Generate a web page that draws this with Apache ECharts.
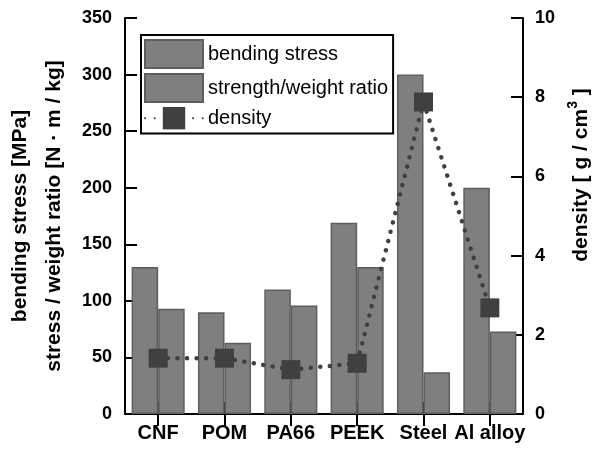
<!DOCTYPE html>
<html>
<head>
<meta charset="utf-8">
<script src="https://cdn.jsdelivr.net/npm/echarts@6/dist/echarts.min.js"></script>
<style>
html,body{margin:0;padding:0;background:#fff;}
#c{width:601px;height:454px;}
</style>
</head>
<body>
<div id="c"></div>
<script>
const categories = ['CNF', 'POM', 'PA66', 'PEEK', 'Steel', 'Al alloy'];
const bendingStress = [130, 90, 110, 169, 300, 200];
const strengthWeight = [93, 63, 96, 130, 37, 73];
const density = [1.41, 1.41, 1.12, 1.28, 7.88, 2.68];
const leftTicks = [0, 350, 50];
const rightTicks = [0, 10, 2];

const FONT = '"Liberation Sans", Arial, sans-serif';
const chart = echarts.init(document.getElementById('c'), null, {renderer: 'canvas'});
const axLine = {show: true, lineStyle: {color: '#000', width: 2}};
const tick = {show: true, inside: true, length: 12, lineStyle: {color: '#000', width: 2}};
const lbl = {color: '#000', fontFamily: FONT, fontWeight: 'bold', fontSize: 18};

chart.setOption({
  animation: false,
  backgroundColor: '#fff',
  grid: {left: 125, right: 78, top: 18, bottom: 40, containLabel: false, outerBoundsMode: 'none'},
  legend: {
    orient: 'vertical',
    left: 141, top: 35,
    padding: [4, 5, 4, 3],
    borderColor: '#000', borderWidth: 2,
    itemWidth: 58, itemHeight: 28, itemGap: 4,
    textStyle: {color: '#000', fontFamily: FONT, fontSize: 20},
    data: [{name: 'bending stress', icon: 'rect'}, {name: 'strength/weight ratio', icon: 'rect'}, {name: 'density'}]
  },
  xAxis: [
    {type: 'category', data: categories, position: 'bottom',
     axisLine: axLine, axisTick: Object.assign({alignWithLabel: true}, tick),
     axisLabel: Object.assign({}, lbl, {fontSize: 20, margin: 9, interval: 0}),
     splitLine: {show: false}},
    {type: 'category', data: categories, position: 'top',
     axisLine: axLine, axisTick: Object.assign({alignWithLabel: true}, tick),
     axisLabel: {show: false}, splitLine: {show: false}}
  ],
  yAxis: [
    {type: 'value', position: 'left', min: leftTicks[0], max: leftTicks[1], interval: leftTicks[2],
     axisLine: axLine, axisTick: tick,
     axisLabel: Object.assign({}, lbl, {margin: 13}),
     splitLine: {show: false},
     name: 'bending stress [MPa]\nstress / weight ratio [N · m / kg]',
     nameLocation: 'middle', nameGap: 51, nameRotate: 90,
     nameTextStyle: {color: '#000', fontFamily: FONT, fontWeight: 'bold', fontSize: 21, lineHeight: 34}},
    {type: 'value', position: 'right', min: rightTicks[0], max: rightTicks[1], interval: rightTicks[2],
     axisLine: axLine, axisTick: tick,
     axisLabel: Object.assign({}, lbl, {margin: 12}),
     splitLine: {show: false},
     name: '{n|density [ g / cm}{sup|3}{n| ]}',
     nameLocation: 'middle', nameGap: 42, nameRotate: 90,
     nameTextStyle: {color: '#000', fontFamily: FONT, fontWeight: 'bold', fontSize: 21, padding: [0, 0, 0, 82],
       rich: {
         n: {color: '#000', fontFamily: FONT, fontWeight: 'bold', fontSize: 21, lineHeight: 26, verticalAlign: 'bottom'},
         sup: {color: '#000', fontFamily: FONT, fontWeight: 'bold', fontSize: 14, lineHeight: 14, verticalAlign: 'top'}
       }}}
  ],
  series: [
    {name: 'bending stress', type: 'bar', data: bendingStress, xAxisIndex: 0, yAxisIndex: 0,
     barGap: '0%', barCategoryGap: '20%',
     itemStyle: {color: '#7f7f7f', borderColor: '#5e5e5e', borderWidth: 1.5}},
    {name: 'strength/weight ratio', type: 'bar', data: strengthWeight, xAxisIndex: 0, yAxisIndex: 0,
     barGap: '0%', barCategoryGap: '20%',
     itemStyle: {color: '#7f7f7f', borderColor: '#5e5e5e', borderWidth: 1.5}},
    {name: 'density', type: 'line', data: density, xAxisIndex: 0, yAxisIndex: 1,
     symbol: 'rect', symbolSize: 19, z: 5,
     itemStyle: {color: '#404040'},
     lineStyle: {color: '#404040', width: 4.5, type: [0.1, 9.5], cap: 'round'}}
  ]
});
</script>
</body>
</html>
